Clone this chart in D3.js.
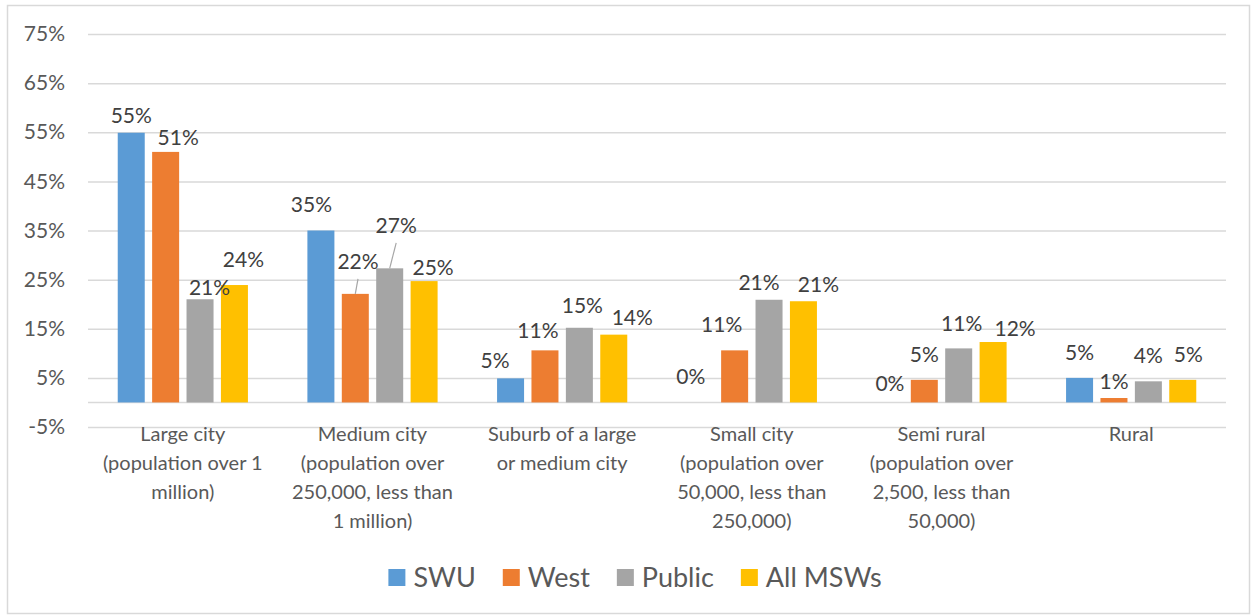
<!DOCTYPE html>
<html>
<head>
<meta charset="utf-8">
<script src="https://cdn.jsdelivr.net/npm/d3@7"></script>
<style>
  body { margin: 0; background: #fff; }
  text { font-family: Lato, "DejaVu Sans", sans-serif; }
</style>
</head>
<body>
<svg id="chart" width="1252" height="616"></svg>
<script>
// ======================================================================
// DATA
// ======================================================================

var categories = ["Large city", "Medium city", "Suburb", "Small city", "Semi rural", "Rural"];
var categoryLines = [
    ["Large city", "(population over 1", "million)"],
    ["Medium city", "(population over", "250,000, less than", "1 million)"],
    ["Suburb of a large", "or medium city"],
    ["Small city", "(population over", "50,000, less than", "250,000)"],
    ["Semi rural", "(population over", "2,500, less than", "50,000)"],
    ["Rural"]
];
var seriesNames = ["SWU", "West", "Public", "All MSWs"];
var swuValues    = [54.9, 35.0, 4.9, 0, 0, 5.0];
var westValues   = [51.0, 22.1, 10.6, 10.6, 4.6, 0.9];
var publicValues = [21.0, 27.3, 15.2, 20.9, 11.0, 4.3];
var allValues    = [23.9, 24.7, 13.8, 20.6, 12.3, 4.6];
var yTicks = [-5, 5, 15, 25, 35, 45, 55, 65, 75];

// ======================================================================
// STYLE / LABEL PLACEMENT
// ======================================================================

var colors = ["#5b9bd5", "#ed7d31", "#a5a5a5", "#ffc000"];
// label nudges [dx, dy] from bar centre / bar top, one row per series
var labelNudge = [
    [[0, -17], [-9.5, -26], [-15.5, -17.5], [-9.5, -26], [0, -19], [0, -25]],
    [[12.5, -14.5], [2.7, -32], [-7, -19.5], [-13, -26], [0, -25.4], [0, -16.3]],
    [[9.5, -12.3], [6.5, -42.5], [3, -22], [-10, -17], [3, -25], [0, -25.5]],
    [[9, -26], [9, -13.5], [18.5, -17], [15, -17], [22, -13.7], [5.6, -25.2]]
];
// [category, series] pairs that get a leader line
var leaders = [[1, 1], [1, 2]];

var svg = d3.select("#chart");
var values = [swuValues, westValues, publicValues, allValues];

// chart frame
svg.append("rect")
    .attr("x", 7.5).attr("y", 5.5)
    .attr("width", 1242).attr("height", 608)
    .attr("fill", "#fff").attr("stroke", "#d9d9d9").attr("stroke-width", 1.5);

var left = 88, right = 1226;
var y = d3.scaleLinear().domain([-5, 75]).range([427, 34]);
var x0 = d3.scaleBand().domain(categories).range([left, right]);
var x1 = d3.scaleBand().domain(seriesNames).range([-65.1, 65.1]).paddingInner(0.215);

// y axis + gridlines
var yAxis = svg.append("g")
    .attr("transform", "translate(" + left + ",0)")
    .call(d3.axisLeft(y).tickValues(yTicks)
        .tickFormat(function(d) { return d + "%"; })
        .tickSize(-(right - left)).tickPadding(23));
yAxis.select(".domain").remove();
yAxis.selectAll(".tick line").attr("stroke", "#d9d9d9").attr("stroke-width", 1.5);
yAxis.selectAll(".tick text")
    .attr("fill", "#595959").style("font-size", "21px");

// zero line
svg.append("line")
    .attr("x1", left).attr("x2", right)
    .attr("y1", y(0)).attr("y2", y(0))
    .attr("stroke", "#d9d9d9").attr("stroke-width", 1.5);

// bars
var rows = [];
categories.forEach(function(c, ci) {
    seriesNames.forEach(function(s, si) {
        rows.push({cat: c, ci: ci, s: s, si: si, v: values[si][ci]});
    });
});

function barCx(d) { return x0(d.cat) + x0.bandwidth() / 2 + x1(d.s) + x1.bandwidth() / 2; }

svg.append("g").selectAll("rect")
    .data(rows.filter(function(d) { return d.v > 0; }))
    .enter().append("rect")
    .attr("x", function(d) { return x0(d.cat) + x0.bandwidth() / 2 + x1(d.s); })
    .attr("y", function(d) { return y(d.v); })
    .attr("width", x1.bandwidth())
    .attr("height", function(d) { return y(0) - y(d.v); })
    .attr("fill", function(d) { return colors[d.si]; });

// leader lines
svg.append("g").selectAll("line")
    .data(leaders)
    .enter().append("line")
    .attr("x1", function(p) { return barCx(rows[p[0] * 4 + p[1]]); })
    .attr("y1", function(p) { return y(rows[p[0] * 4 + p[1]].v); })
    .attr("x2", function(p) { var d = rows[p[0] * 4 + p[1]]; return barCx(d) + labelNudge[p[1]][p[0]][0]; })
    .attr("y2", function(p) { var d = rows[p[0] * 4 + p[1]]; return y(d.v) + labelNudge[p[1]][p[0]][1] + 17; })
    .attr("stroke", "#a6a6a6").attr("stroke-width", 1.2);

// data labels
svg.append("g").selectAll("text")
    .data(rows)
    .enter().append("text")
    .attr("x", function(d) { return barCx(d) + labelNudge[d.si][d.ci][0]; })
    .attr("y", function(d) { return y(d.v) + labelNudge[d.si][d.ci][1]; })
    .attr("dy", "0.36em")
    .attr("text-anchor", "middle")
    .attr("fill", "#404040")
    .style("font-size", "21px")
    .text(function(d) { return Math.round(d.v) + "%"; });

// category labels
var catText = svg.append("g").selectAll("text")
    .data(categories)
    .enter().append("text")
    .attr("text-anchor", "middle")
    .attr("fill", "#595959")
    .style("font-size", "20px");
catText.selectAll("tspan")
    .data(function(d, i) { return categoryLines[i]; })
    .enter().append("tspan")
    .attr("x", function(d, i, nodes) {
        var cat = d3.select(nodes[i].parentNode).datum();
        return x0(cat) + x0.bandwidth() / 2;
    })
    .attr("y", function(d, i) { return 434 + i * 29; })
    .attr("dy", "0.36em")
    .text(function(d) { return d; });

// legend
var legend = svg.append("g");
var lx = 0;
seriesNames.forEach(function(s, i) {
    var item = legend.append("g").attr("transform", "translate(" + lx + ",0)");
    item.append("rect").attr("x", 0).attr("y", 569).attr("width", 17).attr("height", 17)
        .attr("fill", colors[i]);
    var t = item.append("text").attr("x", 25).attr("y", 577.5).attr("dy", "0.36em")
        .attr("fill", "#595959").style("font-size", "27px").text(s);
    lx += 25 + t.node().getComputedTextLength() + 27;
});
lx -= 27;
legend.attr("transform", "translate(" + (635 - lx / 2) + ",0)");
</script>
</body>
</html>
